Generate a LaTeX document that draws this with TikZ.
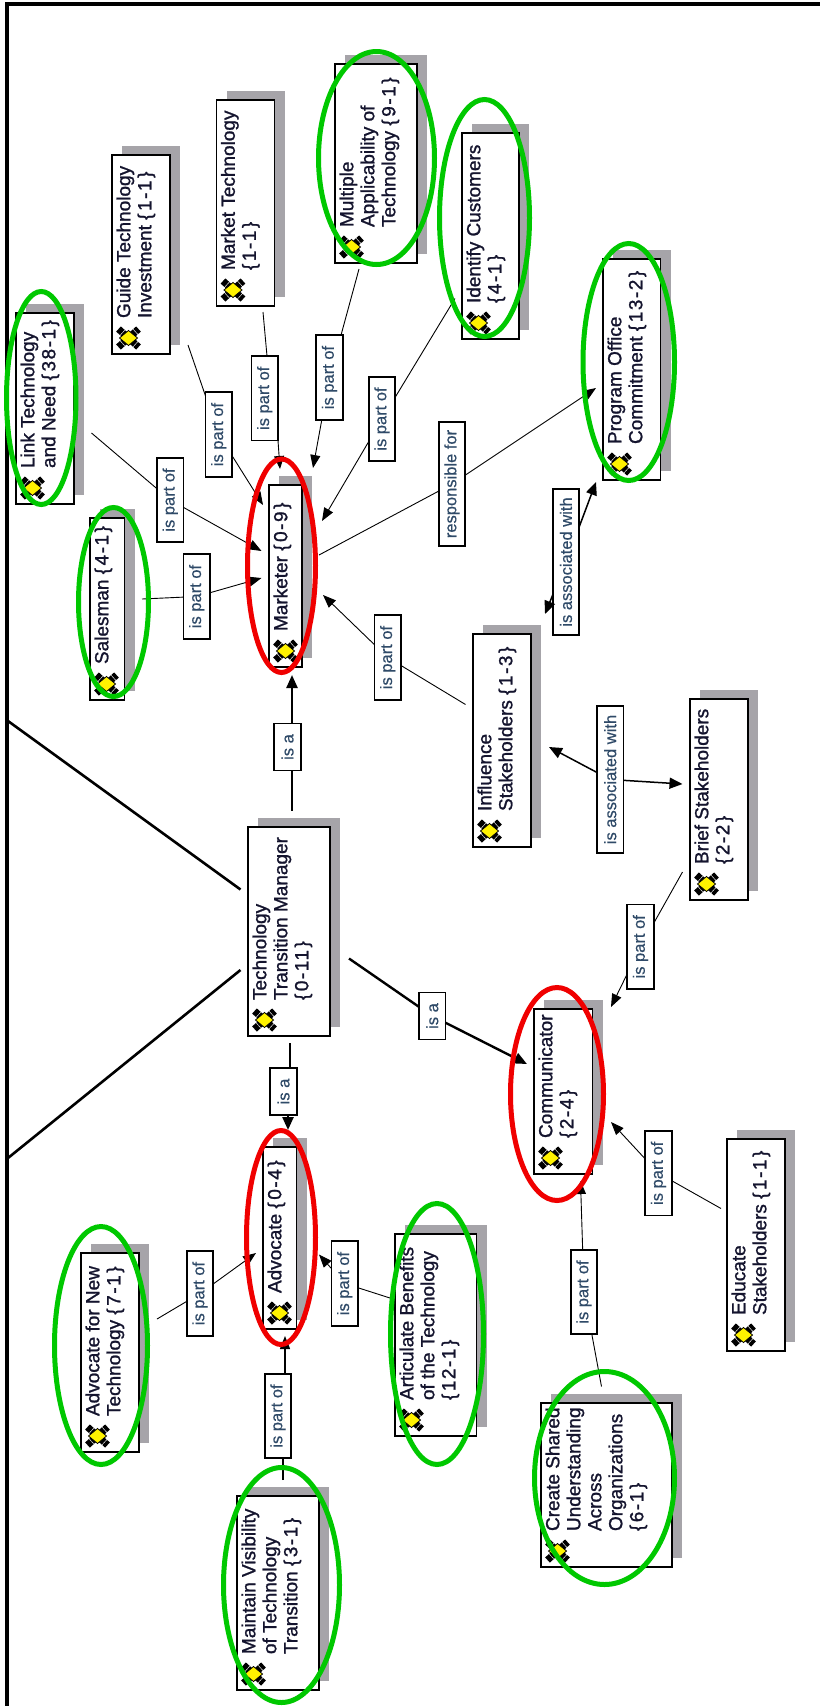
\documentclass[tikz,border=0pt]{standalone}
\usepackage{fontspec}
\setmainfont{Liberation Sans}
\newfontfamily\boxfont{Liberation Sans}[RawFeature={embolden=1.2}]
\newfontfamily\labfont{Liberation Sans}[RawFeature={embolden=0.5}]
\newfontfamily\cntfont{Liberation Sans}[RawFeature={embolden=1.2},LetterSpace=8]
\usetikzlibrary{arrows.meta}
\definecolor{shadowgray}{HTML}{A6A4A9}
\definecolor{ink}{HTML}{14142E}
\definecolor{labink}{HTML}{2F4A68}
\definecolor{ringgreen}{HTML}{00C800}
\definecolor{ringred}{HTML}{F00000}
\newcommand{\cnt}[1]{{\cntfont\{\kern2.5pt #1\kern2.5pt\}}}
\tikzset{
  x=1pt,y=-1pt,
  cboxstyle/.style={draw=black,line width=1.5pt,fill=white,inner sep=0pt,outer sep=0pt,rotate=90,text=ink},
  lab/.style={draw=black,line width=1.3pt,fill=white,inner sep=0pt,outer sep=0pt,rotate=90,text=labink,font=\labfont\fontsize{16.5}{18}\selectfont},
  thinconn/.style={line width=0.9pt,-{Triangle[length=13pt,width=10pt]}},
  midconn/.style={line width=1.5pt,-{Triangle[length=13pt,width=11pt]}},
  boldconn/.style={line width=2.4pt,-{Triangle[length=13pt,width=11pt]}},
  wire/.style={line width=2.6pt},
  greenring/.style={draw=ringgreen,line width=5pt},
  redring/.style={draw=ringred,line width=5pt},
}
\newcommand{\cbox}[6]{%
  \pgfmathsetmacro\bw{#4-#2}\pgfmathsetmacro\bh{#5-#3}%
  \fill[shadowgray] (#2+10,#3-9.5) rectangle (#4+10,#5-9.5);
  \node[cboxstyle] (#1) at ({(#2+#4)/2},{(#3+#5)/2}) {\parbox[c][\bw pt][t]{\bh pt}{%
    \boxfont\fontsize{19}{21}\selectfont\leftskip=36pt\rightskip=0pt plus 1fil\parindent=0pt\vspace*{4.5pt}#6}};
  \begin{scope}[shift={(#2+16.5,#5-16)}]
    \draw[black,line width=7pt,dash pattern=on 5pt off 0.8pt] (-10,-9) -- (10,9);
    \draw[black,line width=7pt,dash pattern=on 5pt off 0.8pt] (-10,9) -- (10,-9);
    \fill[yellow,draw=black,line width=0.8pt] (-9,0) -- (0,-7.5) -- (9,0) -- (0,7.5) -- cycle;
  \end{scope}
}
\newcommand{\lbl}[6]{%
  \pgfmathsetmacro\bw{#4-#2}\pgfmathsetmacro\bh{#5-#3}%
  \node[lab,minimum width=\bh pt,minimum height=\bw pt] (#1) at ({(#2+#4)/2},{(#3+#5)/2}) {#6};
}
\newcommand{\ring}[5]{%
  \draw[#1] ({(#2+#4)/2},{(#3+#5)/2}) ellipse [x radius={(#4-#2)/2-2.5},y radius={(#5-#3)/2-2.5}];
}
\begin{document}
\begin{tikzpicture}
\useasboundingbox (0,0) rectangle (820,1706);
\fill[white] (0,0) rectangle (820,1706);
\draw[black,line width=4pt] (7,1706) -- (7,4) -- (820,4);

% concept boxes
\cbox{link}{16}{313}{74}{504}{Link Technology\\and Need \cnt{38-1}}
\cbox{guide}{112}{155}{170}{354}{Guide Technology\\Investment \cnt{1-1}}
\cbox{market}{216.5}{100}{274.5}{306}{Market Technology\\\cnt{1-1}}
\cbox{multiple}{335}{64}{417}{263}{Multiple\\Applicability of\\Technology \cnt{9-1}}
\cbox{identify}{462}{133}{519}{339}{Identify Customers\\\cnt{4-1}}
\cbox{program}{603}{259}{660.5}{480}{Program Office\\Commitment \cnt{13-2}}
\cbox{salesman}{90}{518}{124.5}{700}{Salesman \cnt{4-1}}
\cbox{marketer}{269}{485}{302}{667}{Marketer \cnt{0-9}}
\cbox{influence}{473}{634}{531}{847}{Influence\\Stakeholders \cnt{1-3}}
\cbox{brief}{690}{699}{748}{900}{Brief Stakeholders\\\cnt{2-2}}
\cbox{ttm}{248}{827}{330}{1036}{Technology\\Transition Manager\\\cnt{0-11}}
\cbox{communicator}{534}{1009}{592.5}{1174}{Communicator\\\cnt{2-4}}
\cbox{advocate}{263}{1147}{296.5}{1329}{Advocate \cnt{0-4}}
\cbox{educate}{727}{1139}{785}{1351}{Educate\\Stakeholders \cnt{1-1}}
\cbox{advnew}{81}{1253}{139}{1452}{Advocate for New\\Technology \cnt{7-1}}
\cbox{articulate}{395}{1234}{476.5}{1436}{Articulate Benefits\\of the Technology\\\cnt{12-1}}
\cbox{maintain}{237}{1496}{319}{1690}{Maintain Visibility\\of Technology\\Transition \cnt{3-1}}
\cbox{create}{541}{1403}{672}{1567}{Create Shared\\Understanding\\Across\\Organizations\\\cnt{6-1}}

% connector labels
\lbl{lLink}{157}{458}{183.5}{542}{is part of}
\lbl{lGuide}{205.5}{392}{232}{477}{is part of}
\lbl{lMarket}{251.5}{356}{278}{440.5}{is part of}
\lbl{lMultiple}{316}{335}{343}{420}{is part of}
\lbl{lIdentify}{369}{377}{395}{461}{is part of}
\lbl{lResp}{439}{422}{465}{546}{responsible for}
\lbl{lAssocA}{553}{489}{579}{635}{is associated with}
\lbl{lSales}{183.5}{554}{210}{639}{is part of}
\lbl{lInfl}{374.5}{615}{401}{700}{is part of}
\lbl{lIsaM}{274}{723.5}{301}{770.5}{is a}
\lbl{lAssocB}{597}{706}{623.5}{853}{is associated with}
\lbl{lBrief}{627}{904.5}{654}{989}{is part of}
\lbl{lIsaC}{419}{992.5}{445.5}{1039.5}{is a}
\lbl{lIsaA}{270}{1068}{297}{1115}{is a}
\lbl{lEdu}{645}{1131}{672}{1215.5}{is part of}
\lbl{lAdvNew}{187}{1251}{213}{1336}{is part of}
\lbl{lArt}{331.5}{1241}{358}{1326}{is part of}
\lbl{lMaint}{265}{1374}{291}{1458}{is part of}
\lbl{lCreate}{571}{1250}{597}{1334}{is part of}

% connector end points, beside the boxes they belong to
\coordinate (linkOut) at (91.5,433);     \coordinate (markerInA) at (261.5,551);
\coordinate (guideOut) at (188,345);     \coordinate (markerInB) at (263,505);
\coordinate (marketOut) at (263,312);    \coordinate (markerInC) at (280,469);
\coordinate (lMarketTop) at (267,356);   \coordinate (lMarketBot) at (278,440.5);
\coordinate (multipleOut) at (359,269);  \coordinate (markerInD) at (313,468);
\coordinate (identifyOut) at (455,298.5);\coordinate (markerInE) at (322,521);
\coordinate (markerOut) at (319,555);    \coordinate (programInA) at (596,388);
\coordinate (influenceUp) at (545,614);  \coordinate (programInB) at (596,482);
\coordinate (salesOut) at (142,599);     \coordinate (markerInF) at (261.5,578);
\coordinate (influenceOut) at (465.5,704.5); \coordinate (markerInG) at (323,595);
\coordinate (ttmTop) at (292,810.5);     \coordinate (markerInH) at (292,675);
\coordinate (influenceIn) at (549,747);  \coordinate (briefIn) at (682.5,784);
\coordinate (briefOut) at (682.5,872);   \coordinate (commInA) at (611,1007);
\coordinate (ttmRight) at (349,958.5);   \coordinate (commInB) at (527,1064);
\coordinate (ttmBottom) at (290,1043);   \coordinate (advInA) at (288,1130);
\coordinate (educateOut) at (721,1208.5);\coordinate (commInC) at (611,1122);
\coordinate (createOut) at (601.5,1386.5);\coordinate (commInD) at (580.5,1181);
\coordinate (advnewOut) at (157,1319);   \coordinate (advInB) at (256,1253);
\coordinate (articulateOut) at (390,1298);\coordinate (advInC) at (319,1254.5);
\coordinate (maintainOut) at (283,1480); \coordinate (advInD) at (285,1336);
\coordinate (frameUp) at (8,721);        \coordinate (ttmLeftA) at (240.5,889.5);
\coordinate (frameDown) at (8,1158);     \coordinate (ttmLeftB) at (240.5,970);

% connectors
\draw[thinconn] (linkOut) -- (lLink) -- (markerInA);
\draw[thinconn] (guideOut) -- (lGuide) -- (markerInB);
\draw[line width=0.9pt] (marketOut) -- (lMarketTop);
\draw[thinconn] (lMarketBot) -- (markerInC);
\draw[thinconn] (multipleOut) -- (lMultiple) -- (markerInD);
\draw[thinconn] (identifyOut) -- (lIdentify) -- (markerInE);
\draw[thinconn] (markerOut) -- (lResp) -- (programInA);
\draw[midconn] (lAssocA) -- (influenceUp);
\draw[midconn] (lAssocA) -- (programInB);
\draw[thinconn] (salesOut) -- (lSales) -- (markerInF);
\draw[thinconn] (influenceOut) -- (lInfl) -- (markerInG);
\draw[line width=2.4pt] (ttmTop) -- (ttmTop |- lIsaM.west);
\draw[boldconn] (markerInH |- lIsaM.east) -- (markerInH);
\draw[midconn] (lAssocB) -- (influenceIn);
\draw[midconn] (lAssocB) -- (briefIn);
\draw[thinconn] (briefOut) -- (lBrief) -- (commInA);
\draw[boldconn] (ttmRight) -- (lIsaC) -- (commInB);
\draw[line width=2.4pt] (ttmBottom) -- (ttmBottom |- lIsaA.east);
\draw[boldconn] (advInA |- lIsaA.west) -- (advInA);
\draw[thinconn] (educateOut) -- (lEdu) -- (commInC);
\draw[thinconn] (createOut) -- (lCreate) -- (commInD);
\draw[thinconn] (advnewOut) -- (lAdvNew) -- (advInB);
\draw[thinconn] (articulateOut) -- (lArt) -- (advInC);
\draw[line width=1.3pt] (maintainOut) -- (maintainOut |- lMaint.west);
\draw[line width=1.3pt,-{Triangle[length=13pt,width=10pt]}] (advInD |- lMaint.east) -- (advInD);
\draw[wire] (frameUp) -- (ttmLeftA);
\draw[wire] (frameDown) -- (ttmLeftB);

% hand-drawn rings
\ring{greenring}{316}{49}{437}{267}
\ring{greenring}{437}{97}{532}{339}
\ring{greenring}{580.5}{241}{677}{483}
\ring{greenring}{4}{289}{78.5}{507}
\ring{greenring}{76}{505}{151}{699}
\ring{redring}{245}{456.5}{318}{675}
\ring{redring}{508}{985}{606}{1203}
\ring{redring}{244}{1128}{318}{1347}
\ring{greenring}{52}{1224}{150}{1467}
\ring{greenring}{388}{1201}{486}{1467}
\ring{greenring}{221}{1465}{342}{1705}
\ring{greenring}{532}{1369}{677}{1587}
\end{tikzpicture}
\end{document}
